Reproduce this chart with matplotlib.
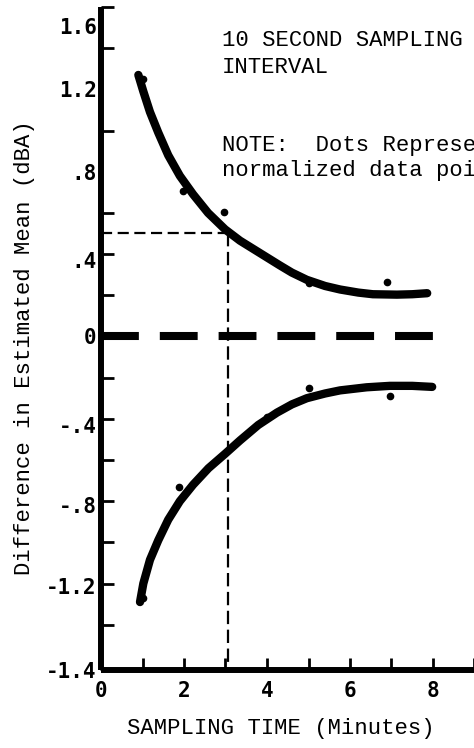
import matplotlib
matplotlib.use("Agg")
import matplotlib.pyplot as plt
import numpy as np

# fitted curves
upper_x = [0.90, 1.02, 1.18, 1.38, 1.62, 1.90, 2.22, 2.58, 2.99, 3.35, 3.79, 4.31,
           4.60, 4.96, 5.40, 5.76, 6.20, 6.55, 7.13, 7.50, 7.86]
upper_y = [1.27, 1.19, 1.09, 0.99, 0.88, 0.78, 0.69, 0.60, 0.52, 0.465, 0.41, 0.345,
           0.31, 0.275, 0.245, 0.228, 0.213, 0.205, 0.203, 0.205, 0.21]
lower_x = [0.94, 1.02, 1.18, 1.38, 1.62, 1.90, 2.22, 2.59, 2.99, 3.35, 3.79, 4.24,
           4.60, 4.96, 5.40, 5.76, 6.40, 6.96, 7.50, 7.98]
lower_y = [-1.29, -1.20, -1.085, -0.99, -0.89, -0.80, -0.72, -0.64, -0.57, -0.505, -0.43, -0.37,
           -0.33, -0.30, -0.277, -0.262, -0.247, -0.24, -0.24, -0.245]

# normalized data points (dots)
dots_up_x = [1.0, 1.98, 2.96, 5.0, 6.9]
dots_up_y = [1.25, 0.708, 0.605, 0.26, 0.265]
dots_lo_x = [1.0, 1.87, 4.0, 5.0, 6.96]
dots_lo_y = [-1.27, -0.73, -0.39, -0.25, -0.29]

# 0.5 dBA read-off at ~3 minutes
read_x = 3.05
read_y = 0.5

xtick_vals = [0, 2, 4, 6, 8]
xtick_labels = ["0", "2", "4", "6", "8"]
ylab_vals = [1.51, 1.2, 0.8, 0.37, 0, -0.43, -0.82, -1.21, -1.62]
ylab_text = ["1.6", "1.2", ".8", ".4", "0", "-.4", "-.8", "-1.2", "-1.4"]

mono = "Liberation Mono"
bold_mono = dict(family="DejaVu Sans Mono", weight="bold", size=15)

fig = plt.figure(figsize=(4.74, 7.48), dpi=100)
ax = fig.add_axes([101/474, 78/748, 373.5/474, 663/748])
ax.set_xlim(0, 9)
ax.set_ylim(-1.6, 1.6)

for s in ["top", "right"]:
    ax.spines[s].set_visible(False)
for s in ["left", "bottom"]:
    ax.spines[s].set_linewidth(4.3)
    ax.spines[s].set_capstyle("butt")

# ticks
ax.set_xticks(xtick_vals, xtick_labels, fontdict=bold_mono)
ax.set_xticks(np.arange(1, 10), minor=True)
ax.tick_params(axis="x", which="major", direction="in", length=8.5, width=2, pad=8)
ax.tick_params(axis="x", which="minor", direction="in", length=8.5, width=2)

ax.set_yticks(ylab_vals, ylab_text, fontdict=bold_mono)
ax.set_yticks(np.arange(-1.4, 1.61, 0.2), minor=True)
ax.tick_params(axis="y", which="major", length=0, pad=3)
ax.tick_params(axis="y", which="minor", direction="in", length=9.5, width=2)

# zero reference line
ax.plot([0, 8], [0, 0], color="black", lw=5.8, dashes=(4.7, 2.6),
        dash_capstyle="butt", clip_on=False)

# dashed read-off lines
ax.plot([0, read_x], [read_y, read_y], color="black", lw=1.6, dashes=(5, 2.5))
ax.plot([read_x, read_x], [read_y, -1.6], color="black", lw=1.6, dashes=(6, 2.5))

# curves and dots
ax.plot(upper_x, upper_y, color="black", lw=6, solid_capstyle="round", solid_joinstyle="round")
ax.plot(lower_x, lower_y, color="black", lw=6, solid_capstyle="round", solid_joinstyle="round")
ax.plot(dots_up_x, dots_up_y, "o", color="black", ms=4.5)
ax.plot(dots_lo_x, dots_lo_y, "o", color="black", ms=4.5)

# annotations (clipped at the right edge, as in the original)
ax.text(2.92, 1.41, "10 SECOND SAMPLING", family=mono, fontsize=16, va="baseline")
ax.text(2.92, 1.28, "INTERVAL", family=mono, fontsize=16, va="baseline")
ax.text(2.92, 0.90, "NOTE:  Dots Represent", family=mono, fontsize=16, va="baseline")
ax.text(2.92, 0.78, "normalized data points", family=mono, fontsize=16, va="baseline")

ax.set_xlabel("SAMPLING TIME (Minutes)", family=mono, fontsize=16, va="center")
ax.xaxis.set_label_coords(0.481, -0.088)
ax.set_ylabel("Difference in Estimated Mean (dBA)", family=mono, fontsize=16, va="center")
ax.yaxis.set_label_coords(-0.206, 0.486)

fig.savefig("out.png", dpi=100)
